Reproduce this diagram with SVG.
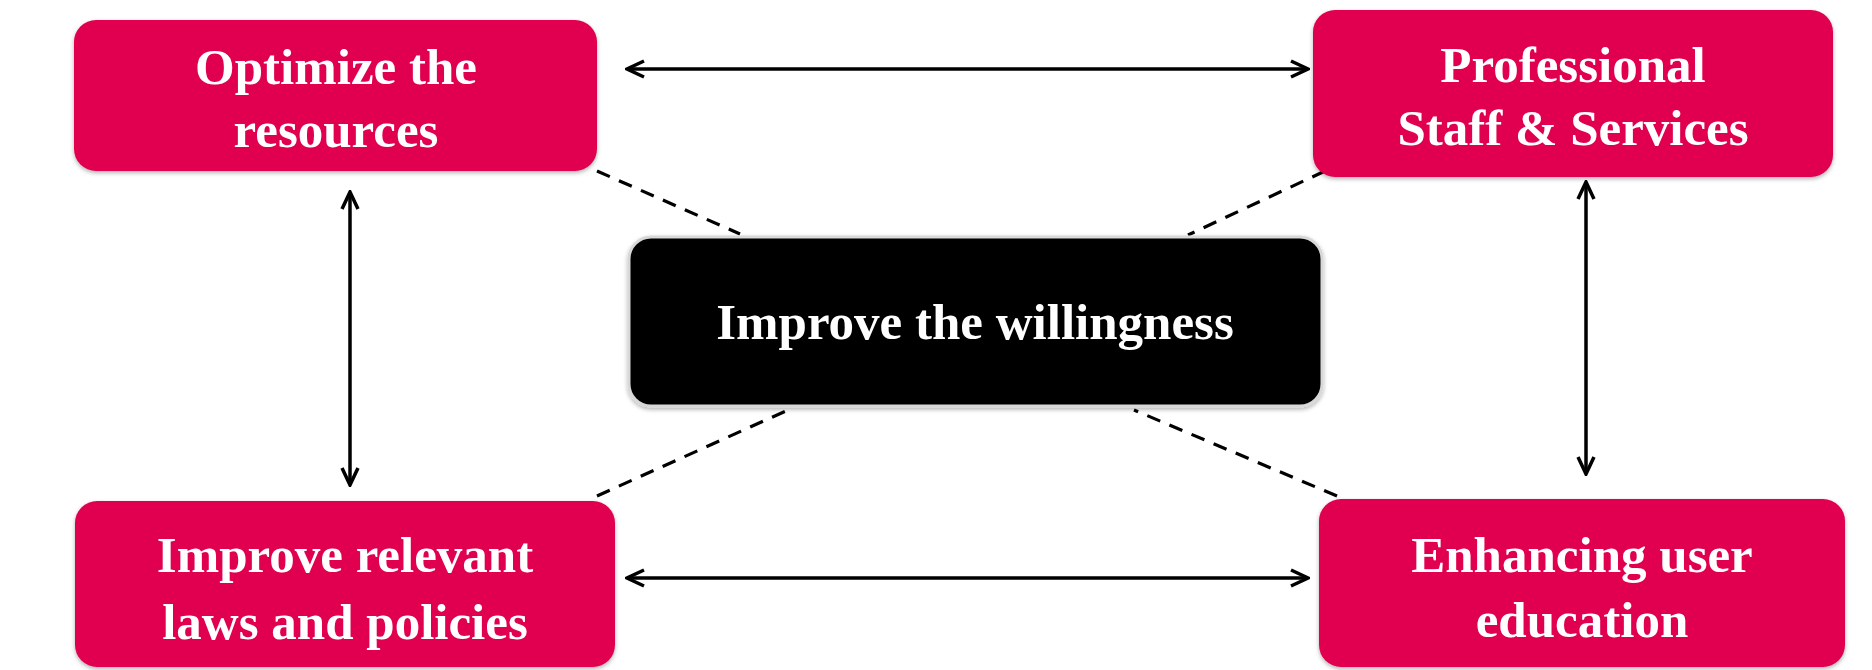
<svg xmlns="http://www.w3.org/2000/svg" width="1872" height="670" viewBox="0 0 1872 670">
<style>
.pink{fill:#E0004F;}
.dark{fill:#000;stroke:#d8d8d8;stroke-width:3;}
.lbl{font-family:"Liberation Serif","Times New Roman",serif;font-weight:bold;font-size:51px;fill:#fff;text-anchor:middle;}
.arr{stroke:#000;stroke-width:3.5;fill:none;marker-start:url(#ah);marker-end:url(#ah);}
.dash{stroke:#000;stroke-width:3.2;fill:none;stroke-dasharray:14 10;}
</style>
<defs>
<marker id="ah" viewBox="0 0 20 20" refX="18" refY="10" markerWidth="20" markerHeight="20" markerUnits="userSpaceOnUse" orient="auto-start-reverse">
<path d="M1,2 L18,10 L1,18" fill="none" stroke="#000" stroke-width="3.5"/>
</marker>
<filter id="sh" x="-5%" y="-5%" width="110%" height="115%">
<feDropShadow dx="0" dy="2" stdDeviation="2" flood-color="#000" flood-opacity="0.3"/>
</filter>
</defs>
<rect width="1872" height="670" fill="#fff"/>
<g id="connectors">
<line class="arr" x1="627" y1="69" x2="1308" y2="69"/>
<line class="arr" x1="627" y1="578" x2="1308" y2="578"/>
<line class="arr" x1="350" y1="192" x2="350" y2="485"/>
<line class="arr" x1="1586" y1="182" x2="1586" y2="474"/>
<line class="dash" x1="597" y1="171" x2="740" y2="234"/>
<line class="dash" x1="1325" y1="171" x2="1188" y2="235"/>
<line class="dash" x1="597" y1="496" x2="788" y2="410"/>
<line class="dash" x1="1337" y1="496" x2="1134" y2="410"/>
</g>
<g id="optimize">
<rect class="pink" x="74" y="20" width="523" height="151" rx="22" filter="url(#sh)"/>
<text class="lbl" x="336" y="84">Optimize the</text>
<text class="lbl" x="336" y="147">resources</text>
</g>
<g id="professional">
<rect class="pink" x="1313" y="10" width="520" height="167" rx="22" filter="url(#sh)"/>
<text class="lbl" x="1573" y="82">Professional</text>
<text class="lbl" x="1573" y="145">Staff &amp; Services</text>
</g>
<g id="willingness">
<rect class="dark" x="629" y="237" width="693" height="169" rx="22" filter="url(#sh)"/>
<text class="lbl" x="975" y="339">Improve the willingness</text>
</g>
<g id="laws">
<rect class="pink" x="75" y="501" width="540" height="166" rx="22" filter="url(#sh)"/>
<text class="lbl" x="345" y="572">Improve relevant</text>
<text class="lbl" x="345" y="639">laws and policies</text>
</g>
<g id="education">
<rect class="pink" x="1319" y="499" width="526" height="168" rx="22" filter="url(#sh)"/>
<text class="lbl" x="1582" y="572">Enhancing user</text>
<text class="lbl" x="1582" y="637">education</text>
</g>
</svg>
